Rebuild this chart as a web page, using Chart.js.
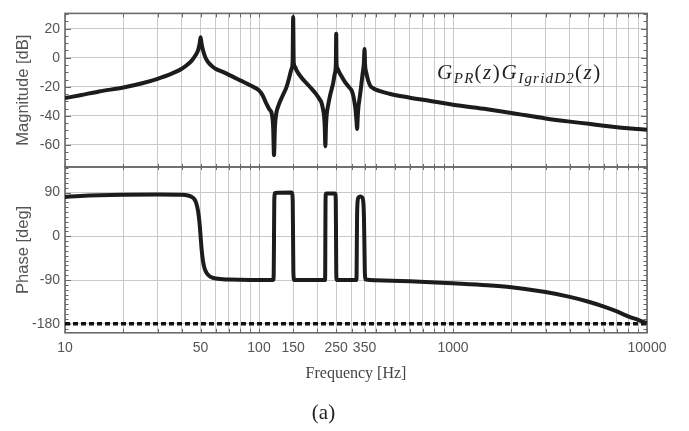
<!DOCTYPE html>
<html><head><meta charset="utf-8">
<script src="https://cdn.jsdelivr.net/npm/chart.js@4.4.1/dist/chart.umd.min.js"></script>
<style>html,body{margin:0;padding:0;background:#fff;}#wrap{position:relative;width:689px;height:431px;}</style>
</head><body><div id="wrap"><canvas id="c" width="689" height="431"></canvas></div>
<script>
// ---- data ----
const magFreq = [10,12,15,20,25,30,35,40,43,45,47,48.5,49.4,50,50.6,51.5,53,55,57.5,60,65,70,80,90,100,105,109,113,116.5,118.3,119.5,120.8,122.5,125.6,132,138.6,143,147,149,150,151,153,156,165,176,188,198,205,210,213.5,216.5,218.3,219.8,221.3,223,227,232,237,241,246,249,250,251,254,258,263,275,290,300,306,310,314,317.5,320.5,323,326,330,336,342,347,350,352,358,365,375,388,400,470,600,700,1000,1500,2000,3000,4000,5000,6000,7000,8000,9000,10000];
const magDb = [-27.8,-25.8,-23.2,-20.5,-17.6,-14.5,-11.3,-7.6,-4.5,-2,1.5,5,9.5,14,9.5,5,0,-3.5,-6,-7.8,-9.8,-11.8,-15.6,-19,-22.5,-26.5,-31.5,-35.5,-39,-48,-67,-48,-39,-33.5,-26.5,-20.3,-14,-7.8,-3,28,-3,-6,-8.6,-13.5,-17.6,-21.8,-25.4,-28.5,-31,-35,-40,-48,-61,-48,-40,-33,-26.5,-21.5,-17.6,-10.8,-4,16.5,-4,-7.5,-9.5,-11.5,-16,-20,-22.5,-26,-30,-35,-42,-49,-40,-33,-28,-20,-11,-4,6,-4,-10.8,-15.5,-19.5,-21,-22,-24.8,-27.5,-29,-32.4,-35.5,-38,-41.8,-44,-45.5,-46.8,-47.8,-48.6,-49.1,-49.6];

const phaseFreq = [10,12,15,20,30,40,43,45,46.5,47.5,48.5,49.3,50,50.7,51.5,52.5,54,56,60,70,90,118.5,119.1,119.5,119.9,121,147.5,149.2,149.8,150.4,152,218.8,219.4,219.8,220.3,221.5,247,248.7,249.5,250.2,251.5,317.5,318.5,319.3,320.3,322,326,333,340,345,347.5,349.5,351,353,356,400,600,1000,1500,2000,3000,4000,5000,6000,7000,8000,9000,10000];
const phaseDeg = [81,83,84.5,85.5,86,85.5,84,81,76,68,52,30,0,-30,-52,-67,-77,-83,-87,-89,-90,-90,-75,0,75,89,90,75,0,-75,-90,-90,-75,0,75,88,88,75,0,-75,-90,-90,-75,-20,40,70,80,82,80,70,40,-20,-70,-86,-89,-90.5,-92.5,-96.7,-100.5,-104.7,-114.7,-124.7,-134.7,-144.7,-154.7,-164.7,-172,-179];

const refFreq = [10, 10000];
const refDeg = [-180, -180];

const xGridValues = [10,20,30,40,50,60,70,80,90,100,150,200,250,300,350,400,500,600,700,800,900,1000,2000,3000,4000,5000,6000,7000,8000,9000,10000];
const xTickLabels = [10,50,100,150,250,350,1000,10000];
const magTicks = [-60,-40,-20,0,20];
const phaseTicks = [-180,-90,0,90];

const toPts = (xs, ys) => xs.map((x, i) => ({x: x, y: ys[i]}));

const tickFont = {family: '"Liberation Sans", Arial, sans-serif', size: 14};
const tickColor = '#555';

const framePlugin = {
  id: 'frame',
  beforeDatasetsDraw(chart) {
    const {ctx, chartArea, scales} = chart;
    const x = scales.x, ym = scales.yMag, yp = scales.yPh;
    ctx.save();
    ctx.strokeStyle = '#666';
    ctx.lineWidth = 1;
    function yMinor(scale, step, majors) {
      const lo = Math.ceil(scale.min / step) * step;
      for (let v = lo; v <= scale.max + 1e-9; v += step) {
        const py = Math.round(scale.getPixelForValue(v)) + 0.5;
        const len = majors.includes(v) ? 6 : 3.5;
        ctx.beginPath();
        ctx.moveTo(chartArea.left, py); ctx.lineTo(chartArea.left + len, py);
        ctx.moveTo(chartArea.right, py); ctx.lineTo(chartArea.right - len, py);
        ctx.stroke();
      }
    }
    yMinor(ym, 5, magTicks);
    yMinor(yp, 10, phaseTicks);
    for (const v of xGridValues) {
      const px = Math.round(x.getPixelForValue(v)) + 0.5;
      ctx.beginPath();
      ctx.moveTo(px, ym.top); ctx.lineTo(px, ym.top + 4);
      ctx.moveTo(px, yp.bottom); ctx.lineTo(px, yp.bottom - 4);
      ctx.moveTo(px, ym.bottom - 3); ctx.lineTo(px, ym.bottom + 3);
      ctx.stroke();
    }
    ctx.strokeStyle = '#6a6a6a';
    ctx.lineWidth = 1.6;
    ctx.strokeRect(chartArea.left, ym.top, chartArea.right - chartArea.left, ym.bottom - ym.top);
    ctx.strokeRect(chartArea.left, yp.top, chartArea.right - chartArea.left, yp.bottom - yp.top);
    ctx.restore();
  },
  afterDraw(chart) {
    const {ctx, chartArea} = chart;
    const big = 'italic 21px "Liberation Serif", serif';
    const up = '21px "Liberation Serif", serif';
    const sub = 'italic 15px "Liberation Serif", serif';
    const pieces = [
      ['G', big, 0], ['PR', sub, 4], ['(', up, 0], ['z', big, 0], [')', up, 0],
      ['G', big, 0], ['IgridD2', sub, 4], ['(', up, 0], ['z', big, 0], [')', up, 0]
    ];
    let px = chartArea.left + 372;
    const base = chartArea.top + 66;
    ctx.save();
    ctx.fillStyle = '#222';
    ctx.textBaseline = 'alphabetic';
    ctx.textAlign = 'left';
    for (const [t, f, dy] of pieces) {
      ctx.font = f;
      for (const ch of t) {
        ctx.fillText(ch, px, base + dy);
        px += ctx.measureText(ch).width + (f === sub ? 1.2 : 1.6);
      }
    }
    ctx.restore();
  }
};

new Chart(document.getElementById('c'), {
  type: 'line',
  data: {
    datasets: [
      {data: toPts(magFreq, magDb), yAxisID: 'yMag', borderColor: '#1c1c1c', borderWidth: 4, pointRadius: 0, cubicInterpolationMode: 'monotone', fill: false},
      {data: toPts(phaseFreq, phaseDeg), yAxisID: 'yPh', borderColor: '#1c1c1c', borderWidth: 4, pointRadius: 0, cubicInterpolationMode: 'monotone', fill: false},
      {data: toPts(refFreq, refDeg), yAxisID: 'yPh', borderColor: '#111', borderWidth: 3.5, borderDash: [5, 3], pointRadius: 0, fill: false}
    ]
  },
  options: {
    responsive: false,
    animation: false,
    devicePixelRatio: 1,
    layout: {padding: {left: 0, right: 42, top: 5, bottom: 0}},
    plugins: {
      legend: {display: false},
      tooltip: {enabled: false},
      title: {display: true, position: 'bottom', text: '(a)', color: '#222',
        font: {family: '"Liberation Serif", serif', size: 21, weight: 'normal'},
        padding: {top: 13, bottom: 5}}
    },
    scales: {
      x: {
        type: 'logarithmic', min: 10, max: 10000, position: 'bottom',
        afterBuildTicks: s => { s.ticks = xGridValues.map(v => ({value: v})); },
        afterFit: s => { s.height = 55; },
        ticks: {autoSkip: false, maxRotation: 0, minRotation: 0, padding: 7, color: tickColor, font: tickFont,
          callback: v => xTickLabels.includes(v) ? String(v) : ''},
        grid: {color: '#c9c9c9', lineWidth: 1, drawTicks: false},
        border: {display: false},
        title: {display: true, text: 'Frequency [Hz]', color: '#444',
          font: {family: '"Liberation Serif", serif', size: 16}, padding: {top: 0, bottom: 4}}
      },
      yPh: {
        type: 'linear', position: 'left', stack: 'v', stackWeight: 170.3, min: -198.6, max: 142.7,
        afterBuildTicks: s => { s.ticks = phaseTicks.map(v => ({value: v})); },
        afterFit: s => { s.width = 65; },
        ticks: {padding: 5, color: tickColor, font: tickFont},
        grid: {color: '#c9c9c9', lineWidth: 1, drawTicks: false},
        border: {display: false},
        title: {display: true, text: 'Phase [deg]', color: '#555',
          font: {family: '"Liberation Sans", Arial, sans-serif', size: 16.5}, padding: {top: 14, bottom: 0}}
      },
      yMag: {
        type: 'linear', position: 'left', stack: 'v', stackWeight: 157.7, min: -75.2, max: 30.5,
        afterBuildTicks: s => { s.ticks = magTicks.map(v => ({value: v})); },
        afterFit: s => { s.width = 65; },
        ticks: {padding: 5, color: tickColor, font: tickFont},
        grid: {color: '#c9c9c9', lineWidth: 1, drawTicks: false},
        border: {display: false},
        title: {display: true, text: 'Magnitude [dB]', color: '#555',
          font: {family: '"Liberation Sans", Arial, sans-serif', size: 16.5}, padding: {top: 14, bottom: 0}}
      }
    }
  },
  plugins: [framePlugin]
});
</script>
</body></html>
